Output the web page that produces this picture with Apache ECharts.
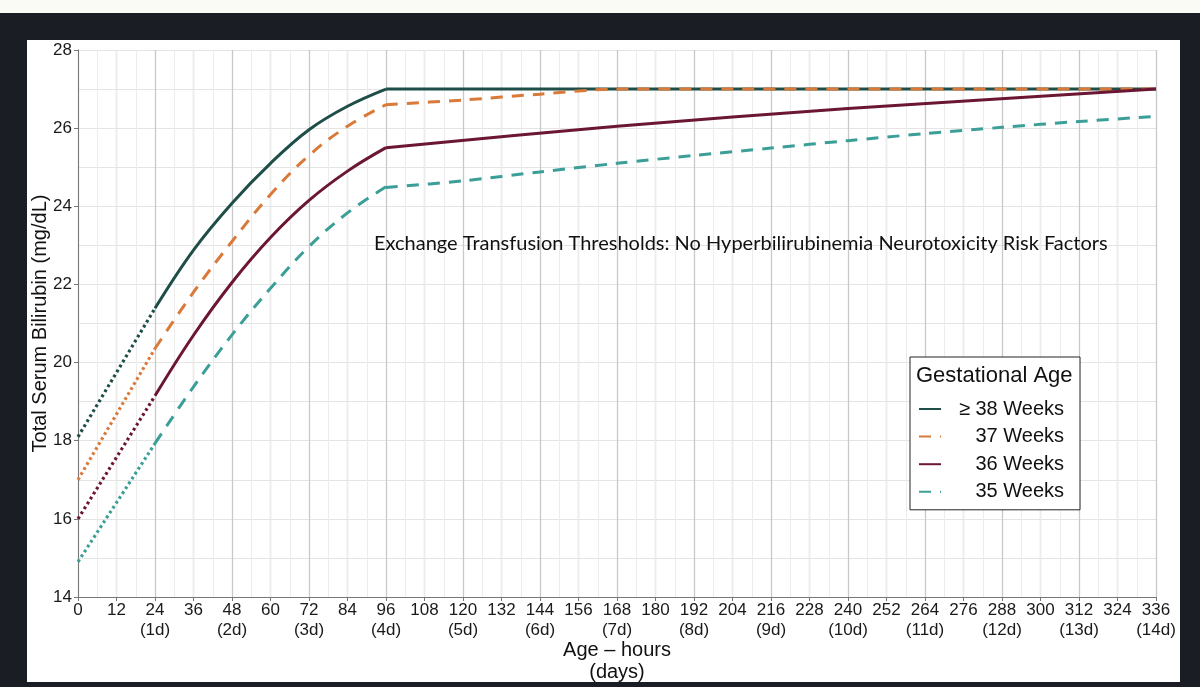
<!DOCTYPE html>
<html>
<head>
<meta charset="utf-8">
<script src="https://cdn.jsdelivr.net/npm/echarts@6/dist/echarts.min.js"></script>
<style>
  html, body { margin: 0; padding: 0; width: 1200px; height: 687px; overflow: hidden; background: #1b1d24; }
  #strip { position: absolute; left: 0; top: 0; width: 1200px; height: 13px; background: #fbfbf6; }
  #panel { position: absolute; left: 27px; top: 40px; width: 1153px; height: 642px; background: #ffffff; }
  #chart { position: absolute; left: 0; top: 0; width: 1200px; height: 687px; }
</style>
</head>
<body>
<div id="strip"></div>
<div id="panel"></div>
<div id="chart"></div>
<script>
// ---- data ----
const seriesNames = ['\u2265 38 Weeks', '37 Weeks', '36 Weeks', '35 Weeks'];
const seriesColors = ['#1f4e49', '#d97a3a', '#6b1733', '#3b9f98'];

const dotHours = [0, 24];
const ge38Dot = [18.1, 21.39];
const ge37Dot = [17.0, 20.36];
const ge36Dot = [16.0, 19.15];
const ge35Dot = [14.9, 17.93];

const curveHours = [24, 36, 48, 60, 72, 84, 96];
const ge38Curve = [21.39, 22.88, 24.08, 25.1, 25.96, 26.56, 27.0];
const ge37Curve = [20.36, 21.8, 23.1, 24.3, 25.3, 26.05, 26.6];
const ge36Curve = [19.15, 20.7, 22.05, 23.2, 24.15, 24.9, 25.5];
const ge35Curve = [17.93, 19.38, 20.71, 21.9, 22.97, 23.83, 24.5];

const ge38TailHours = [96, 336];
const ge38Tail = [27.0, 27.0];
const ge37TailHours = [96, 120, 144, 168, 336];
const ge37Tail = [26.6, 26.72, 26.87, 27.0, 27.0];
const ge36TailHours = [96, 168, 240, 336];
const ge36Tail = [25.5, 26.05, 26.5, 27.0];
const ge35TailHours = [96, 120, 144, 168, 192, 216, 240, 264, 288, 312, 336];
const ge35Tail = [24.48, 24.65, 24.88, 25.1, 25.3, 25.49, 25.68, 25.86, 26.02, 26.17, 26.3];

const xLabelHours = [0, 12, 24, 36, 48, 60, 72, 84, 96, 108, 120, 132, 144, 156, 168, 180, 192, 204, 216, 228, 240, 252, 264, 276, 288, 300, 312, 324, 336];
const yTicks = [14, 16, 18, 20, 22, 24, 26, 28];

const annotationText = 'Exchange Transfusion Thresholds: No Hyperbilirubinemia Neurotoxicity Risk Factors';
const legendTitle = 'Gestational Age';

// ---- build ----
const pairs = (xs, ys) => xs.map((x, i) => [x, ys[i]]);
const FONT = '"Liberation Sans", Arial, Helvetica, sans-serif';

const groups = [
  { dot: ge38Dot, curve: ge38Curve, tailH: ge38TailHours, tail: ge38Tail, dash: 'solid' },
  { dot: ge37Dot, curve: ge37Curve, tailH: ge37TailHours, tail: ge37Tail, dash: [12, 9] },
  { dot: ge36Dot, curve: ge36Curve, tailH: ge36TailHours, tail: ge36Tail, dash: 'solid' },
  { dot: ge35Dot, curve: ge35Curve, tailH: ge35TailHours, tail: ge35Tail, dash: [12, 9] }
];

const series = [];
groups.forEach((g, i) => {
  const color = seriesColors[i];
  const name = seriesNames[i];
  series.push({
    name: name, type: 'line', data: pairs(curveHours, g.curve),
    smooth: 0.4, symbol: 'none', silent: true,
    lineStyle: { color: color, width: 3, type: g.dash }, itemStyle: { color: color },
    z: 2 + i
  });
  series.push({
    name: name, type: 'line', data: pairs(g.tailH, g.tail),
    smooth: 0.3, symbol: 'none', silent: true,
    lineStyle: { color: color, width: 3, type: g.dash }, itemStyle: { color: color },
    z: 2 + i
  });
  series.push({
    name: name + ' (dotted)', type: 'line', data: pairs(dotHours, g.dot),
    symbol: 'none', silent: true,
    lineStyle: { color: color, width: 3.2, type: [2.8, 3.0] }, itemStyle: { color: color },
    z: 2 + i
  });
});

const chart = echarts.init(document.getElementById('chart'), null, { renderer: 'canvas' });
chart.setOption({
  backgroundColor: 'transparent',
  animation: false,
  grid: { left: 78, right: 44, top: 50, bottom: 90, containLabel: false, outerBoundsMode: 'none' },
  title: {
    text: legendTitle, left: 911, top: 360,
    textStyle: { fontFamily: FONT, fontSize: 22, fontWeight: 'normal', color: '#111' }
  },
  legend: {
    data: seriesNames,
    orient: 'vertical', left: 910, top: 357,
    padding: [42, 16, 8, 8],
    borderColor: '#222', borderWidth: 1, backgroundColor: '#fff',
    itemWidth: 22, itemHeight: 14, itemGap: 7.6,
    selectedMode: false,
    itemStyle: { opacity: 0 },
    formatter: n => '{n|' + n + '}',
    textStyle: {
      fontFamily: FONT, fontSize: 20, color: '#111',
      rich: { n: { width: 118, align: 'right', fontFamily: FONT, fontSize: 20, lineHeight: 20, color: '#111' } }
    }
  },
  xAxis: {
    type: 'value', min: 0, max: 336, interval: 24,
    name: 'Age \u2013 hours\n(days)', nameLocation: 'middle', nameGap: 42, nameMoveOverlap: false,
    nameTextStyle: { fontFamily: FONT, fontSize: 20, color: '#111', lineHeight: 22 },
    axisLine: { show: true, lineStyle: { color: '#777', width: 1 } },
    axisTick: { show: true, length: 4, customValues: xLabelHours, lineStyle: { color: '#777' } },
    axisLabel: {
      customValues: xLabelHours, margin: 3,
      fontFamily: FONT, fontSize: 17, color: '#1a1a1a', lineHeight: 20,
      formatter: v => (v > 0 && v % 24 === 0) ? (v + '\n(' + (v / 24) + 'd)') : String(v)
    },
    splitLine: { show: true, lineStyle: { color: '#c8c8c8', width: 1.3 } },
    minorTick: { show: false, splitNumber: 4 },
    minorSplitLine: { show: true, lineStyle: { color: '#ececec', width: 1 } }
  },
  yAxis: {
    type: 'value', min: 14, max: 28, interval: 2,
    name: 'Total Serum Bilirubin (mg/dL)', nameLocation: 'middle', nameGap: 28, nameMoveOverlap: false,
    nameTextStyle: { fontFamily: FONT, fontSize: 20, color: '#111' },
    axisLine: { show: true, lineStyle: { color: '#777', width: 1 } },
    axisTick: { show: true, length: 4, lineStyle: { color: '#777' } },
    axisLabel: {
      margin: 6, fontFamily: FONT, fontSize: 17, color: '#1a1a1a',
      formatter: v => yTicks.indexOf(v) >= 0 ? String(v) : ''
    },
    splitLine: { show: true, lineStyle: { color: '#e4e4e4', width: 1 } },
    minorTick: { show: false, splitNumber: 2 },
    minorSplitLine: { show: true, lineStyle: { color: '#e4e4e4', width: 1 } }
  },
  graphic: [{
    type: 'text', left: 374, top: 234, z: 50,
    style: { text: annotationText, fontFamily: 'Lato, "Open Sans", sans-serif', fontSize: 20, fill: '#111' }
  }],
  series: series
});
</script>
</body>
</html>
